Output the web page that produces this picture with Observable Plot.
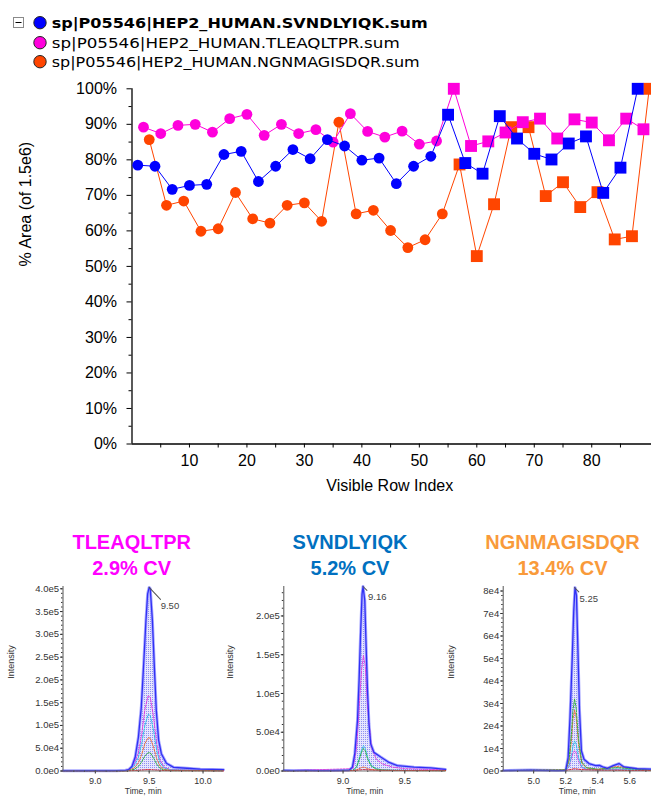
<!DOCTYPE html>
<html><head><meta charset="utf-8">
<script src="https://cdn.jsdelivr.net/npm/d3@7"></script>
<script src="https://cdn.jsdelivr.net/npm/@observablehq/plot@0.6"></script>
<style>
body{margin:0;background:#fff;}
#root{position:relative;width:651px;height:797px;overflow:hidden;background:#fff;font-family:"Liberation Sans",Arial,sans-serif;}
.ptitle{position:absolute;font-weight:bold;font-size:20px;text-align:center;line-height:26.3px;width:220px;white-space:nowrap;}
</style></head><body><div id="root"></div>
<script>
// ---------- main chart data ----------
const legendNames = ["sp|P05546|HEP2_HUMAN.SVNDLYIQK.sum","sp|P05546|HEP2_HUMAN.TLEAQLTPR.sum","sp|P05546|HEP2_HUMAN.NGNMAGISDQR.sum"];
const seriesColors = ["#0000ff","#ff00dc","#ff4500"];
const blueRows = [1,4,7,10,13,16,19,22,25,28,31,34,37,40,43,46,49,52,55,58,61,64,67,70,73,76,79,82,85,88];
const blueVals = [78.5,78.2,71.7,72.8,73.1,81.5,82.4,73.9,78.2,82.9,80.3,85.7,83.9,79.9,80.5,73.3,78.2,81.0,92.7,79.1,76.1,92.3,86.0,81.7,80.1,84.6,86.6,70.7,77.8,100];
const pinkRows = [2,5,8,11,14,17,20,23,26,29,32,35,38,41,44,47,50,53,56,59,62,65,68,71,74,77,80,83,86,89];
const pinkVals = [89.2,87.4,89.7,90.0,87.8,91.6,92.8,86.9,90.0,87.4,88.5,85.0,93.0,88.0,86.4,88.1,84.4,85.3,100,83.9,85.2,87.7,90.6,91.6,86.0,91.4,90.5,85.5,91.6,88.6];
const orangeRows = [3,6,9,12,15,18,21,24,27,30,33,36,39,42,45,48,51,54,57,60,63,66,69,72,75,78,81,84,87,90];
const orangeVals = [85.7,67.2,68.4,59.9,60.6,70.8,63.4,62.2,67.2,67.9,62.7,90.6,64.8,65.8,60.1,55.3,57.5,64.8,78.7,52.9,67.5,89.2,89.2,69.8,73.7,66.7,70.9,57.6,58.5,100];
const squareFromRow = 55;
const yTickVals = [0,10,20,30,40,50,60,70,80,90,100];
const yTickLabels = ["0%","10%","20%","30%","40%","50%","60%","70%","80%","90%","100%"];
const yMinorVals = [5,15,25,35,45,55,65,75,85,95];
const xTickVals = [10,20,30,40,50,60,70,80];
const xTickLabels = ["10","20","30","40","50","60","70","80"];
const xMinorVals = [5,15,25,35,45,55,65,75,85];
const yTitle = "% Area (of 1.5e6)";
const xTitle = "Visible Row Index";

// ---------- chromatogram panels data ----------
const panelTitles = ["TLEAQLTPR","SVNDLYIQK","NGNMAGISDQR"];
const panelCVs = ["2.9% CV","5.2% CV","13.4% CV"];
const panelTitleColors = ["#ff00ff","#0070c0","#f99a3a"];
const traceColors = ["#e040e0","#30c0e8","#e8703a","#30b040","#e02020"];

const p1Time = [8.70,8.80,8.90,9.00,9.10,9.20,9.28,9.31,9.34,9.37,9.40,9.427,9.449,9.47,9.486,9.50,9.51,9.53,9.548,9.566,9.588,9.613,9.66,9.727,9.85,9.975,10.19];
const p1Sum  = [500,300,600,700,500,800,1500,3000,10000,30000,74000,140000,235000,330000,389000,403000,400000,330000,228000,133000,67000,38000,17000,8000,6000,4000,3000];
const p1TTime = [8.70,9.25,9.30,9.36,9.40,9.43,9.46,9.49,9.51,9.54,9.57,9.60,9.64,9.70,10.19];
const p1Traces = [
  [300,500,2000,15000,40000,80000,135000,165000,162000,120000,60000,25000,8000,3000,800],
  [300,400,1500,11000,30000,60000,100000,124000,122000,90000,45000,19000,6000,2500,700],
  [200,300,1000,6500,18000,36000,60000,73000,72000,53000,27000,11000,3500,1500,500],
  [300,300,500,3500,10000,20000,33000,40000,40000,29000,15000,6000,2000,800,600],
  [200,300,500,1000,1500,2000,2500,3000,3000,2500,2000,1500,1000,800,300]
];
const p1XTicks = [9.0,9.5,10.0], p1XLabels = ["9.0","9.5","10.0"];
const p1YTicks = [0,50000,100000,150000,200000,250000,300000,350000,400000];
const p1YLabels = ["0.0e0","5.0e4","1.0e5","1.5e5","2.0e5","2.5e5","3.0e5","3.5e5","4.0e5"];

const p2Time = [8.52,8.60,8.70,8.80,8.90,9.00,9.049,9.076,9.095,9.117,9.13,9.143,9.154,9.162,9.176,9.187,9.198,9.21,9.224,9.25,9.305,9.373,9.44,9.575,9.71,9.83];
const p2Sum  = [800,600,700,500,600,800,1000,5000,22000,65000,117000,181000,228000,238000,220000,160000,104000,61000,35000,24000,18000,11000,7000,5000,4000,2000];
const p2TTime = [8.52,9.08,9.11,9.13,9.15,9.165,9.18,9.20,9.23,9.27,9.32,9.40,9.50,9.83];
const p2Traces = [
  [300,3000,30000,80000,130000,149000,135000,80000,30000,15000,9000,5000,3000,1500],
  [300,1000,6000,16000,27000,33000,29000,17000,7000,3000,1500,1000,800,500],
  [300,600,1500,3000,4500,5000,4500,3000,1800,1200,900,700,600,400],
  [300,800,5000,14000,24000,29000,26000,15000,6000,2500,1200,800,600,400],
  [300,500,800,1200,1500,1800,1600,1400,1200,1000,900,800,700,500]
];
const p2XTicks = [9.0,9.5], p2XLabels = ["9.0","9.5"];
const p2YTicks = [0,50000,100000,150000,200000];
const p2YLabels = ["0.0e0","5.0e4","1.0e5","1.5e5","2.0e5"];

const p3Time = [4.81,4.90,4.98,5.05,5.15,5.20,5.215,5.227,5.24,5.25,5.258,5.267,5.275,5.286,5.298,5.314,5.345,5.387,5.41,5.43,5.46,5.497,5.532,5.563,5.646,5.735];
const p3Sum  = [200,300,400,300,200,300,6000,24000,49000,71000,81500,78000,56500,26800,8900,5200,3300,2400,2500,1800,1200,2400,3300,1800,1000,800];
const p3TTime = [4.81,5.20,5.22,5.235,5.245,5.255,5.265,5.28,5.30,5.33,5.40,5.52,5.735];
const p3Traces = [
  [200,300,1800,5500,8000,9000,8000,4500,1500,700,400,600,200],
  [200,300,2000,6500,11000,13400,12000,6000,1800,800,500,900,300],
  [200,400,4000,13000,23000,27000,24000,12000,3500,1300,700,2000,300],
  [200,500,5000,16000,27000,32000,28000,14000,4000,1500,800,1500,300],
  [200,300,500,700,900,1000,900,800,600,500,400,300,200]
];
const p3XTicks = [5.0,5.2,5.4,5.6], p3XLabels = ["5.0","5.2","5.4","5.6"];
const p3YTicks = [0,10000,20000,30000,40000,50000,60000,70000,80000];
const p3YLabels = ["0e0","1e4","2e4","3e4","4e4","5e4","6e4","7e4","8e4"];

const apexLabels = ["9.50","9.16","5.25"];
const apexTimes = [9.50,9.162,5.255];
const apexVals = [403000,238000,81500];

// ---------- build ----------
const root = document.getElementById("root");
function place(el, left, top) { el.style.position = "absolute"; el.style.left = left + "px"; el.style.top = top + "px"; root.appendChild(el); return el; }

// legend (svg text)
const leg = d3.create("svg").attr("width", 651).attr("height", 75);
leg.append("rect").attr("x", 13.5).attr("y", 17.5).attr("width", 10).attr("height", 10).attr("fill", "#fff").attr("stroke", "#8a8a8a");
leg.append("line").attr("x1", 15.5).attr("x2", 21.5).attr("y1", 22.5).attr("y2", 22.5).attr("stroke", "#000");
const legY = [22.7, 42.7, 61.7], legBase = [27.6, 47.6, 66.6], legLen = [376, 348, 368];
legendNames.forEach((n, i) => {
  leg.append("circle").attr("cx", 40).attr("cy", legY[i]).attr("r", 6.2).attr("fill", seriesColors[i]).attr("stroke", "#222").attr("stroke-width", 1);
  leg.append("text").attr("x", 51.7).attr("y", legBase[i]).attr("font-family", "DejaVu Sans, sans-serif").attr("font-size", 14)
    .attr("font-weight", i === 0 ? "bold" : "normal").attr("textLength", legLen[i]).attr("lengthAdjust", "spacingAndGlyphs").attr("fill", "#000").text(n);
});
place(leg.node(), 0, 0);

// main chart
const mk = (rows, vals) => rows.map((r, i) => ({row: r, v: vals[i]}));
const seriesData = [mk(blueRows, blueVals), mk(pinkRows, pinkVals), mk(orangeRows, orangeVals)];
const seriesMarks = [];
[2, 1, 0].forEach(i => {
  const data = seriesData[i], c = seriesColors[i];
  seriesMarks.push(Plot.line(data, {x: "row", y: "v", stroke: c, strokeWidth: 1}));
  seriesMarks.push(Plot.dot(data, {x: "row", y: "v", filter: d => d.row < squareFromRow, symbol: "circle", r: 5.4, fill: c, stroke: "none"}));
  seriesMarks.push(Plot.dot(data, {x: "row", y: "v", filter: d => d.row >= squareFromRow, symbol: "square", r: 6.7, fill: c, stroke: "none"}));
});
const mainPlot = Plot.plot({
  width: 651, height: 430,
  marginTop: 13.3, marginBottom: 61.5, marginLeft: 131.5, marginRight: 0,
  style: {background: "transparent", color: "#000", fontFamily: "Liberation Sans, Arial, sans-serif", fontSize: "16px", overflow: "hidden"},
  x: {domain: [0, 90.4]},
  y: {domain: [0, 100]},
  marks: [
    Plot.axisY({ticks: yTickVals, tickFormat: d => yTickLabels[yTickVals.indexOf(d)], tickSize: 5, tickPadding: 10, fontSize: 16, label: null}),
    Plot.axisY({ticks: yMinorVals, tickFormat: () => "", tickSize: 3, label: null}),
    Plot.axisX({ticks: xTickVals, tickFormat: d => xTickLabels[xTickVals.indexOf(d)], tickSize: 4, tickPadding: 7, fontSize: 16, label: null}),
    Plot.axisX({ticks: xMinorVals, tickFormat: () => "", tickSize: 4, label: null}),
    Plot.ruleX([0], {stroke: "#000", strokeWidth: 1.3}),
    Plot.ruleY([0], {stroke: "#000", strokeWidth: 1.3}),
    Plot.text([yTitle], {frameAnchor: "left", dx: -106, rotate: -90, fontSize: 16, fill: "#000"}),
    Plot.text([xTitle], {frameAnchor: "bottom", dy: 46.5, dx: -2, fontSize: 16, fill: "#000"}),
    ...seriesMarks
  ]
});
place(mainPlot, 0, 75);

// titles
const titleCenters = [131.7, 350, 562.5];
panelTitles.forEach((t, i) => {
  const d = document.createElement("div");
  d.className = "ptitle";
  d.style.color = panelTitleColors[i];
  d.innerHTML = t + "<br>" + panelCVs[i];
  place(d, titleCenters[i] - 110, 528.5);
});

// chromatogram panels
const panelCfg = [
  {left: 0, width: 226, ml: 62.5, mr: 3, xDomain: [8.70, 10.19], yDomain: [0, 405000], time: p1Time, sum: p1Sum, tTime: p1TTime, traces: p1Traces,
   xTicks: p1XTicks, xLabels: p1XLabels, yTicks: p1YTicks, yLabels: p1YLabels, yMinor: d3.range(0, 405000, 10000), xMinor: d3.range(8.8, 10.19, 0.1), ylabDx: -51.5, lead: [136.7, 16.5], labD: [11.5, 19]},
  {left: 215, width: 235, ml: 68.3, mr: 5, xDomain: [8.52, 9.83], yDomain: [0, 238000], time: p2Time, sum: p2Sum, tTime: p2TTime, traces: p2Traces,
   xTicks: p2XTicks, xLabels: p2XLabels, yTicks: p2YTicks, yLabels: p2YLabels, yMinor: d3.range(0, 238000, 10000), xMinor: d3.range(8.6, 9.83, 0.1), ylabDx: -53.6, lead: [135, 5.5], labD: [5, 10.7]},
  {left: 430, width: 221, ml: 72.7, mr: 0, xDomain: [4.81, 5.735], yDomain: [0, 82000], time: p3Time, sum: p3Sum, tTime: p3TTime, traces: p3Traces,
   xTicks: p3XTicks, xLabels: p3XLabels, yTicks: p3YTicks, yLabels: p3YLabels, yMinor: d3.range(0, 82000, 2000), xMinor: d3.range(4.9, 5.735, 0.1), ylabDx: -52, lead: [135, 6], labD: [5, 11]}
];
const lineShape = {draw(context, l) { context.moveTo(0, 0); context.lineTo(0, -l); }};
panelCfg.forEach((c, pi) => {
  const sumData = c.time.map((t, i) => ({t, v: c.sum[i]}));
  const traceMarks = c.traces.map((arr, k) => Plot.line(c.tTime.map((t, i) => ({t, v: arr[i]})), {x: "t", y: "v", stroke: traceColors[k], strokeWidth: 1, strokeDasharray: "2,1.3"}));
  const apex = [{t: apexTimes[pi], v: apexVals[pi], label: apexLabels[pi]}];
  const svg = Plot.plot({
    width: c.width, height: 222,
    marginTop: 11, marginBottom: 26.5, marginLeft: c.ml, marginRight: c.mr,
    style: {background: "transparent", color: "#333", fontFamily: "Liberation Sans, Arial, sans-serif", fontSize: "9px"},
    x: {domain: c.xDomain},
    y: {domain: c.yDomain},
    marks: [
      Plot.areaY(sumData, {x: "t", y: "v", fill: "#c8c8f8"}),
      Plot.line(sumData, {x: "t", y: "v", stroke: "#a8a8ff", strokeWidth: 3}),
      ...traceMarks,
      Plot.line(sumData, {x: "t", y: "v", stroke: "#3030f5", strokeWidth: 1.3}),
      Plot.axisY({ticks: c.yTicks, tickFormat: d => c.yLabels[c.yTicks.indexOf(d)], tickSize: 2.5, tickPadding: 1.5, fontSize: 9.5, label: null}),
      Plot.axisY({ticks: c.yMinor, tickFormat: () => "", tickSize: 1.5, label: null}),
      Plot.axisX({ticks: c.xTicks, tickFormat: d => c.xLabels[c.xTicks.indexOf(d)], tickSize: 3, tickPadding: 4, fontSize: 9, label: null}),
      Plot.axisX({ticks: c.xMinor, tickFormat: () => "", tickSize: 1.5, label: null}),
      Plot.ruleX([c.xDomain[0]], {stroke: "#555"}),
      Plot.ruleY([0], {stroke: "#777"}),
      Plot.vector(apex, {x: "t", y: "v", anchor: "start", rotate: c.lead[0], length: c.lead[1], shape: lineShape, stroke: "#555", strokeWidth: 1}),
      Plot.text(apex, {x: "t", y: "v", text: "label", dx: c.labD[0], dy: c.labD[1], textAnchor: "start", fontSize: 9.5, fill: "#444"}),
      Plot.text(["Intensity"], {frameAnchor: "left", dx: c.ylabDx, rotate: -90, fontSize: 9, fill: "#333"}),
      Plot.text(["Time, min"], {frameAnchor: "bottom", dy: 22.5, fontSize: 8.5, fill: "#333"})
    ]
  });
  const id = "dots" + pi;
  const defs = d3.select(svg).insert("defs", ":first-child");
  const pat = defs.append("pattern").attr("id", id).attr("width", 2).attr("height", 2).attr("patternUnits", "userSpaceOnUse");
  pat.append("rect").attr("width", 2).attr("height", 2).attr("fill", "#e6e6fd");
  pat.append("rect").attr("width", 1).attr("height", 1).attr("fill", "#8e8ef4");
  d3.select(svg).selectAll("g[aria-label='area'] path").attr("fill", `url(#${id})`);
  place(svg, c.left, 575);
});
</script></body></html>
